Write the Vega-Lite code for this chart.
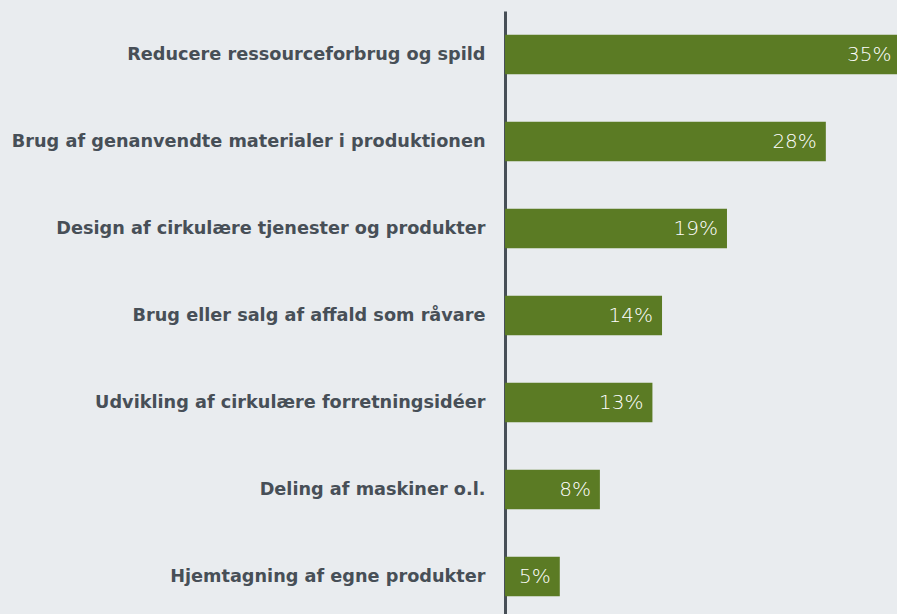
{
  "$schema": "https://vega.github.io/schema/vega-lite/v6.json",
  "autosize": "none",
  "padding": {"left": 505, "top": 11, "right": 0, "bottom": 0},
  "width": 392,
  "height": 609,
  "background": "#e9ecef",
  "config": {"view": {"stroke": null}},
  "data": {
    "values": [
      {"kategori": "Reducere ressourceforbrug og spild", "andel": 35, "label": "35%"},
      {"kategori": "Brug af genanvendte materialer i produktionen", "andel": 28.4, "label": "28%"},
      {"kategori": "Design af cirkulære tjenester og produkter", "andel": 19.65, "label": "19%"},
      {"kategori": "Brug eller salg af affald som råvare", "andel": 13.9, "label": "14%"},
      {"kategori": "Udvikling af cirkulære forretningsidéer", "andel": 13.05, "label": "13%"},
      {"kategori": "Deling af maskiner o.l.", "andel": 8.4, "label": "8%"},
      {"kategori": "Hjemtagning af egne produkter", "andel": 4.85, "label": "5%"}
    ]
  },
  "encoding": {
    "y": {
      "field": "kategori",
      "type": "nominal",
      "sort": null,
      "scale": {"paddingInner": 0.546, "paddingOuter": 0.273},
      "axis": {
        "title": null,
        "ticks": false,
        "labelPadding": 20,
        "labelFont": "DejaVu Sans",
        "labelFontWeight": "bold",
        "labelFontSize": 17.7,
        "labelColor": "#474f57",
        "labelLimit": 600,
        "domainColor": "#474f57",
        "domainWidth": 3,
        "grid": false
      }
    },
    "x": {
      "field": "andel",
      "type": "quantitative",
      "scale": {"domain": [0, 34.7], "nice": false, "zero": true},
      "axis": null
    }
  },
  "layer": [
    {"mark": {"type": "bar", "color": "#5b7b24"}},
    {
      "mark": {"type": "text", "align": "right", "baseline": "middle", "dx": -9, "color": "#ffffff", "font": "DejaVu Sans", "fontSize": 20, "fontWeight": 200},
      "encoding": {"text": {"field": "label"}}
    }
  ]
}
